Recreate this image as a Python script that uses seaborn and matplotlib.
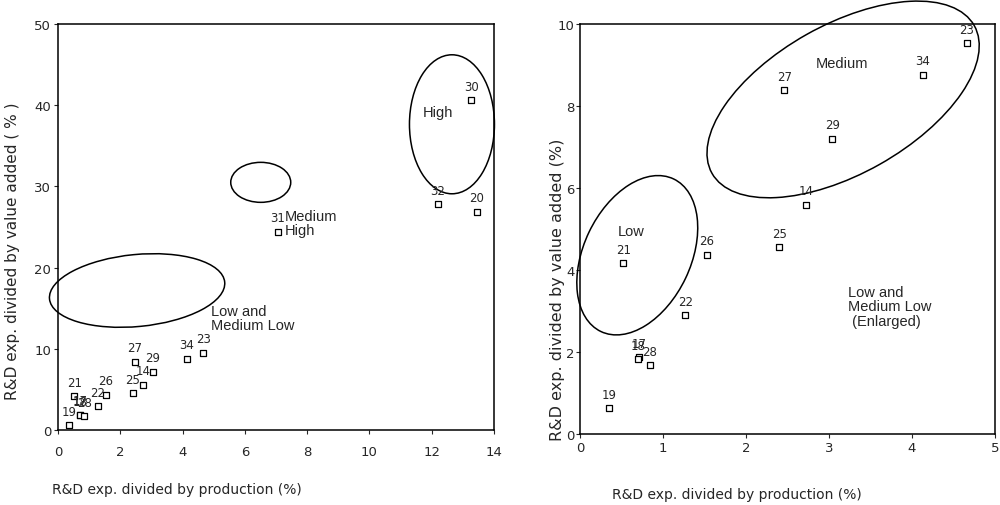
import matplotlib
matplotlib.use("Agg")
import matplotlib.pyplot as plt
import matplotlib.transforms as mtransforms
from matplotlib.patches import Ellipse
import seaborn as sns
import pandas as pd

# sector codes and their R&D intensities (%)
sectors = ["14", "17", "18", "19", "21", "22", "23", "25", "26", "27", "28",
           "29", "34", "31", "32", "20", "30"]
rd_production = [2.72, 0.71, 0.70, 0.35, 0.52, 1.27, 4.66, 2.40, 1.53, 2.46, 0.84,
                 3.04, 4.13, 7.05, 12.2, 13.44, 13.27]
rd_value_added = [5.59, 1.87, 1.83, 0.63, 4.16, 2.90, 9.53, 4.56, 4.37, 8.39, 1.68,
                  7.20, 8.76, 24.4, 27.8, 26.9, 40.6]

left_xticks = [0, 2, 4, 6, 8, 10, 12, 14]
left_yticks = [0, 10, 20, 30, 40, 50]
right_xticks = [0, 1, 2, 3, 4, 5]
right_yticks = [0, 2, 4, 6, 8, 10]

df = pd.DataFrame({"sector": sectors, "x": rd_production, "y": rd_value_added})
df_zoom = df[(df["x"] <= 5) & (df["y"] <= 10)]

sns.set_style("ticks")
plt.rcParams["font.family"] = ["DejaVu Sans"]

fig = plt.figure(figsize=(10, 5.06), dpi=100)
ax1 = fig.add_axes([0.058, 0.1482, 0.436, 0.8024])
ax2 = fig.add_axes([0.580, 0.1403, 0.415, 0.8103])


def ring(ax, cx, cy, w, h, angle=0):
    # centre in data units, size in pixels (so the tilt is not distorted)
    tr = fig.dpi_scale_trans + mtransforms.ScaledTranslation(cx, cy, ax.transData)
    ax.add_patch(Ellipse((0, 0), w / 100, h / 100, angle=angle, fill=False,
                         lw=1.1, ec="black", transform=tr, clip_on=False))


def points(ax, data):
    sns.scatterplot(data=data, x="x", y="y", marker="s", s=16, color="white",
                    edgecolor="black", linewidth=0.9, ax=ax, zorder=3)
    for _, r in data.iterrows():
        ax.annotate(r["sector"], (r["x"], r["y"]), xytext=(0, 10),
                    textcoords="offset points", ha="center", va="center",
                    fontsize=8.5)


for ax in (ax1, ax2):
    for sp in ax.spines.values():
        sp.set_visible(True)
        sp.set_linewidth(1.1)
        sp.set_color("black")

# left panel: full range
points(ax1, df)
ax1.set_xlim(0, 14)
ax1.set_ylim(0, 50)
ax1.set_xticks(left_xticks)
ax1.set_yticks(left_yticks)
ax1.tick_params(axis="x", length=3, labelsize=9.5, pad=8)
ax1.tick_params(axis="y", length=3, labelsize=9.5, pad=2)
ax1.set_xlabel("R&D exp. divided by production (%)", fontsize=10)
ax1.set_ylabel("R&D exp. divided by value added ( % )", fontsize=11)
ax1.xaxis.set_label_coords(0.273, -0.128)
ax1.yaxis.set_label_coords(-0.087, 0.443)

ring(ax1, 12.65, 37.65, 85, 139)
ring(ax1, 6.51, 30.5, 60, 40)
ring(ax1, 2.54, 17.18, 176, 72, angle=5.5)
ax1.text(11.72, 39.2, "High", fontsize=10.5, family="Liberation Sans", va="center")
ax1.text(7.28, 25.5, "Medium\nHigh", fontsize=10.5, family="Liberation Sans",
         va="center", linespacing=1.05)
ax1.text(4.9, 13.8, "Low and\nMedium Low", fontsize=10.5, family="Liberation Sans",
         va="center", linespacing=1.05)

# right panel: enlarged low / medium-low part
points(ax2, df_zoom)
ax2.set_xlim(0, 5)
ax2.set_ylim(0, 10)
ax2.set_xticks(right_xticks)
ax2.set_yticks(right_yticks)
ax2.tick_params(axis="x", length=3, labelsize=9.5, pad=2)
ax2.tick_params(axis="y", length=3, labelsize=9.5, pad=1)
ax2.set_xlabel("R&D exp. divided by production (%)", fontsize=10)
ax2.set_ylabel("R&D exp. divided by value added (%)", fontsize=11.5)
ax2.xaxis.set_label_coords(0.378, -0.129)
ax2.yaxis.set_label_coords(-0.037, 0.354)

ring(ax2, 3.17, 8.16, 301, 149, angle=29.4)
ring(ax2, 0.69, 4.36, 169, 107, angle=64.5)
ax2.text(2.84, 9.04, "Medium", fontsize=10.5, family="Liberation Sans", va="center")
ax2.text(0.46, 4.96, "Low", fontsize=10.5, family="Liberation Sans", va="center")
ax2.text(3.23, 3.11, "Low and\nMedium Low\n (Enlarged)", fontsize=10.5,
         family="Liberation Sans", va="center", linespacing=1.05)

plt.savefig("out.png", dpi=100)
